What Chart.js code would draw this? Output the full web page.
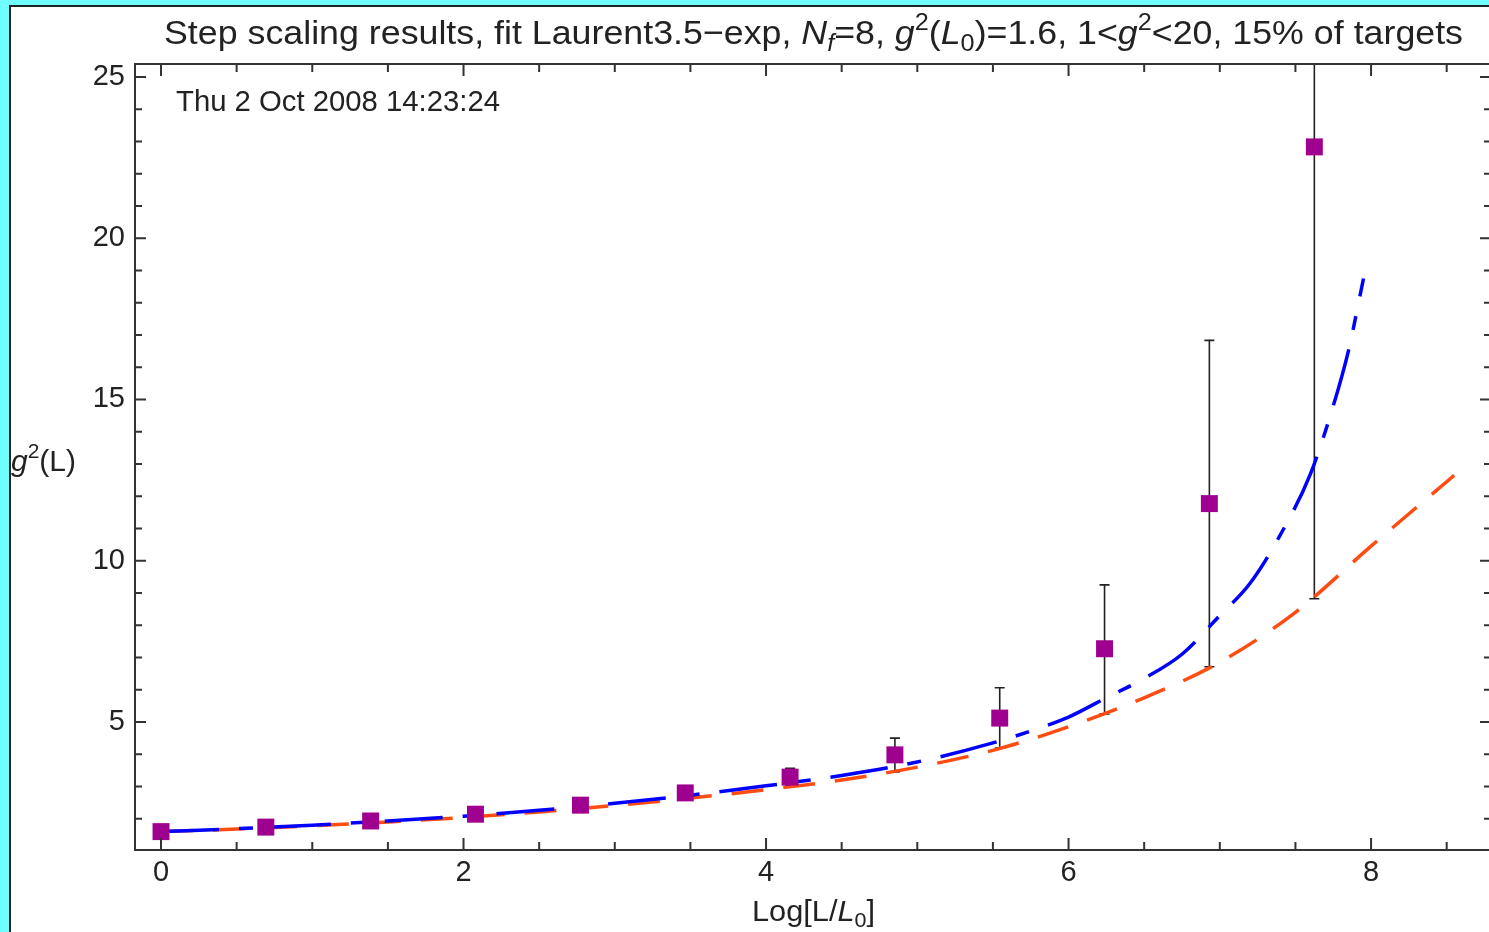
<!DOCTYPE html>
<html>
<head>
<meta charset="utf-8">
<title>Step scaling results</title>
<script src="https://cdn.jsdelivr.net/npm/chart.js@4/dist/chart.umd.min.js"></script>
<style>
  html, body { margin: 0; padding: 0; overflow: hidden; background: #70ffff; width: 1489px; height: 932px; }
  #panel { position: absolute; left: 9px; top: 5px; width: 1500px; height: 950px; background: #fff; border-left: 2px solid #222; border-top: 2px solid #222; }
  #chart { position: absolute; left: 0; top: 0; }
</style>
</head>
<body>
<div id="panel"></div>
<canvas id="chart" width="1500" height="932"></canvas>
<script>
// step scaling points, x = Log[L/L0]
const logL = [0, 0.693, 1.386, 2.079, 2.773, 3.466, 4.159, 4.852, 5.545, 6.238, 6.931, 7.625];
const g2 = [1.6, 1.74, 1.93, 2.14, 2.42, 2.8, 3.29, 3.98, 5.12, 7.27, 11.77, 22.83];
const g2Low = [1.56, 1.7, 1.88, 2.08, 2.35, 2.7, 3.02, 3.45, 4.19, 5.25, 6.71, 8.82];
const g2High = [1.64, 1.78, 1.98, 2.2, 2.49, 2.9, 3.56, 4.5, 6.06, 9.25, 16.83, 36.8];

// blue fit curve
const blueX = [0, 0.5, 1, 1.5, 2, 2.5, 3, 3.5, 4, 4.5, 5, 5.5, 5.8, 6, 6.25, 6.5, 6.75, 7, 7.2, 7.4, 7.6, 7.75, 7.85, 7.95];
const blueY = [1.6, 1.69, 1.8, 1.93, 2.08, 2.26, 2.48, 2.73, 3.02, 3.34, 3.76, 4.35, 4.8, 5.15, 5.75, 6.35, 7.1, 8.3, 9.3, 10.8, 12.7, 14.8, 16.5, 18.75];

// orange fit curve
const orangeX = [0, 0.5, 1, 1.5, 2, 2.5, 3, 3.5, 4, 4.5, 5, 5.5, 6, 6.5, 7, 7.5, 8, 8.55];
const orangeY = [1.6, 1.68, 1.78, 1.9, 2.04, 2.21, 2.41, 2.64, 2.9, 3.2, 3.6, 4.12, 4.85, 5.75, 6.85, 8.4, 10.45, 12.65];

// frame ticks
const xMajor = [0, 2, 4, 6, 8];
const xMinor = [0.5, 1, 1.5, 2.5, 3, 3.5, 4.5, 5, 5.5, 6.5, 7, 7.5, 8.5];
const yMajor = [5, 10, 15, 20, 25];
const yMinor = [2, 3, 4, 6, 7, 8, 9, 11, 12, 13, 14, 16, 17, 18, 19, 21, 22, 23, 24];

const FONT = '"Liberation Sans", Arial, Helvetica, sans-serif';
const INK = "#222";

const titleRuns = [
  { t: "Step scaling results, fit Laurent3.5\u2212exp, " },
  { t: "N", it: true }, { t: "f", it: true, sub: true },
  { t: "=8, " },
  { t: "g", it: true }, { t: "2", sup: true },
  { t: "(" }, { t: "L", it: true }, { t: "0", sub: true }, { t: ")=1.6, 1<" },
  { t: "g", it: true }, { t: "2", sup: true },
  { t: "<20, 15% of targets" },
];
const stampRuns = [{ t: "Thu 2 Oct 2008 14:23:24" }];
const yLabelRuns = [{ t: "g", it: true }, { t: "2", sup: true }, { t: "(L)" }];
const xLabelRuns = [{ t: "Log[L/" }, { t: "L", it: true }, { t: "0", sub: true }, { t: "]" }];

const runFont = (r, size) => `${r.it ? "italic " : ""}${r.sup || r.sub ? Math.round(size * 0.7) : size}px ${FONT}`;

const runsWidth = (ctx, runs, size) => runs.reduce((w, r) => {
  ctx.font = runFont(r, size);
  return w + ctx.measureText(r.t).width;
}, 0);

const drawRuns = (ctx, runs, x, y, size) => {
  let cx = x;
  runs.forEach(r => {
    ctx.font = runFont(r, size);
    const dy = r.sup ? -size * 0.42 : r.sub ? size * 0.2 : 0;
    ctx.fillText(r.t, cx, y + dy);
    cx += ctx.measureText(r.t).width;
  });
};

// draws text squeezed to the given width, the original font is a bit narrow
const drawFitted = (ctx, runs, left, baseline, size, width) => {
  const w = runsWidth(ctx, runs, size);
  ctx.save();
  ctx.translate(left, baseline);
  ctx.scale(width / w, 1);
  drawRuns(ctx, runs, 0, 0, size);
  ctx.restore();
};

const errorBars = {
  id: "errorBars",
  beforeDatasetsDraw(chart) {
    const { ctx, chartArea, scales: { x, y } } = chart;
    ctx.save();
    ctx.beginPath();
    ctx.rect(chartArea.left, chartArea.top, chartArea.right - chartArea.left, chartArea.bottom - chartArea.top);
    ctx.clip();
    ctx.strokeStyle = INK;
    ctx.lineWidth = 1.6;
    logL.forEach((v, i) => {
      const px = x.getPixelForValue(v);
      const lo = y.getPixelForValue(g2Low[i]);
      const hi = y.getPixelForValue(g2High[i]);
      ctx.beginPath();
      ctx.moveTo(px, lo); ctx.lineTo(px, hi);
      ctx.moveTo(px - 5, lo); ctx.lineTo(px + 5, lo);
      ctx.moveTo(px - 5, hi); ctx.lineTo(px + 5, hi);
      ctx.stroke();
    });
    ctx.restore();
  },
};

const frame = {
  id: "frame",
  afterDraw(chart) {
    const { ctx, chartArea: a, scales: { x, y } } = chart;
    ctx.save();
    ctx.strokeStyle = "#333";
    ctx.lineWidth = 2;
    ctx.strokeRect(a.left, a.top, a.right - a.left, a.bottom - a.top);
    ctx.beginPath();
    const xt = (vals, len) => vals.forEach(v => {
      const px = x.getPixelForValue(v);
      ctx.moveTo(px, a.bottom); ctx.lineTo(px, a.bottom - len);
      ctx.moveTo(px, a.top); ctx.lineTo(px, a.top + len);
    });
    const yt = (vals, len) => vals.forEach(v => {
      const py = y.getPixelForValue(v);
      ctx.moveTo(a.left, py); ctx.lineTo(a.left + len, py);
      ctx.moveTo(a.right, py); ctx.lineTo(a.right - len, py);
    });
    xt(xMajor, 12); xt(xMinor, 8);
    yt(yMajor, 11); yt(yMinor, 7);
    ctx.stroke();

    ctx.fillStyle = INK;
    ctx.textBaseline = "alphabetic";
    ctx.textAlign = "left";

    drawFitted(ctx, titleRuns, 164, 44, 34, 1299);
    drawFitted(ctx, stampRuns, a.left + 41, a.top + 47, 30, 324);
    drawFitted(ctx, yLabelRuns, 11, 471, 30, 65);
    drawFitted(ctx, xLabelRuns, 752, 921, 30, 123);
    ctx.restore();
  },
};

new Chart(document.getElementById("chart").getContext("2d"), {
  type: "line",
  data: {
    datasets: [
      {
        label: "g2 data",
        data: logL.map((v, i) => ({ x: v, y: g2[i] })),
        showLine: false,
        pointStyle: "rect",
        pointRadius: 12,
        pointBorderWidth: 0,
        pointBackgroundColor: "#a0008f",
        order: 0,
      },
      {
        label: "fit blue",
        data: blueX.map((v, i) => ({ x: v, y: blueY[i] })),
        borderColor: "#0000ff",
        borderWidth: 3.5,
        borderDash: [58, 20, 14, 20],
        cubicInterpolationMode: "monotone",
        pointRadius: 0,
        fill: false,
        order: 1,
      },
      {
        label: "fit orange",
        data: orangeX.map((v, i) => ({ x: v, y: orangeY[i] })),
        borderColor: "#ff4d12",
        borderWidth: 3.5,
        borderDash: [32, 20],
        cubicInterpolationMode: "monotone",
        pointRadius: 0,
        fill: false,
        order: 2,
      },
    ],
  },
  options: {
    responsive: false,
    animation: false,
    events: [],
    layout: { autoPadding: false, padding: { left: 0, top: 64, right: 9, bottom: 0 } },
    plugins: { legend: { display: false }, tooltip: { enabled: false } },
    scales: {
      x: {
        type: "linear",
        min: -0.172,
        max: 8.793,
        grid: { display: false, drawTicks: false },
        border: { display: false },
        afterFit: s => { s.height = 82; s.paddingLeft = 0; s.paddingRight = 0; },
        afterBuildTicks: s => { s.ticks = xMajor.map(v => ({ value: v })); },
        ticks: { padding: 6, color: INK, font: { family: FONT, size: 29 }, maxRotation: 0 },
      },
      y: {
        type: "linear",
        min: 1.03,
        max: 25.4,
        grid: { display: false, drawTicks: false },
        border: { display: false },
        afterFit: s => { s.width = 135; s.paddingTop = 0; s.paddingBottom = 0; },
        afterBuildTicks: s => { s.ticks = yMajor.map(v => ({ value: v })); },
        ticks: { padding: 10, color: INK, font: { family: FONT, size: 29 } },
      },
    },
  },
  plugins: [errorBars, frame],
});
</script>
</body>
</html>
